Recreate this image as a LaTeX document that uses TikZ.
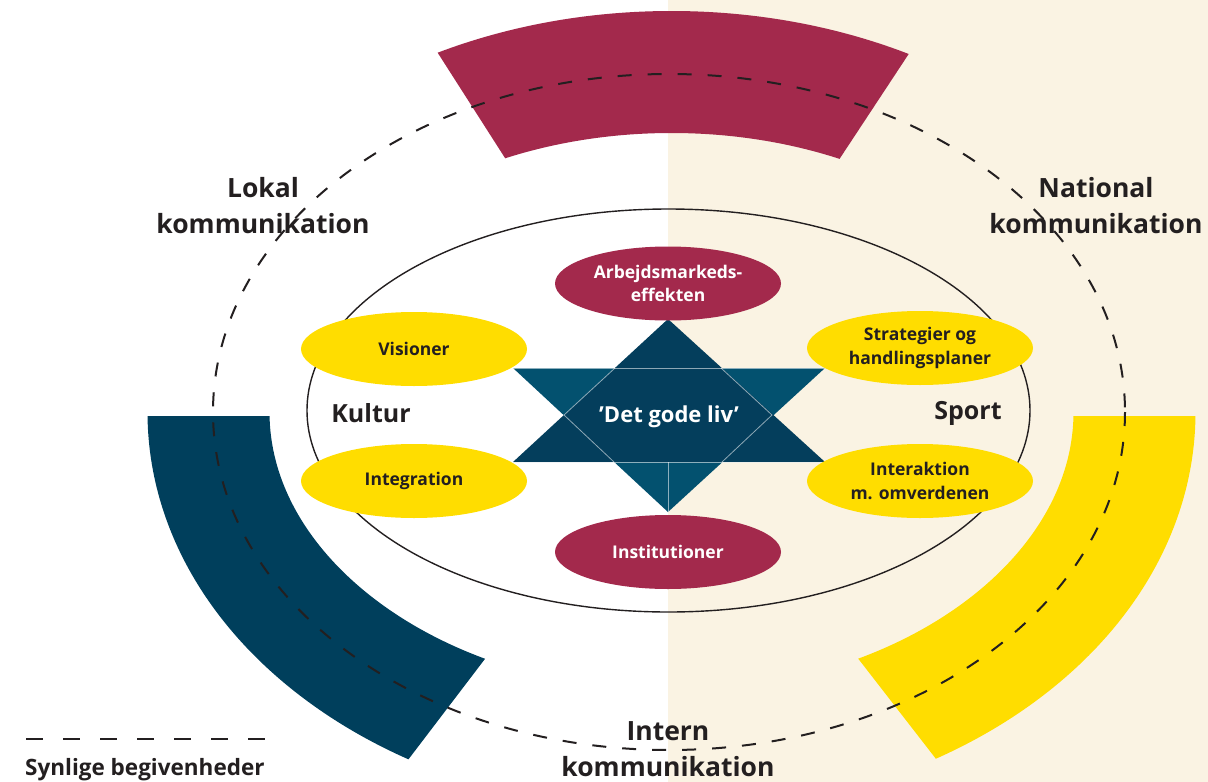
\documentclass[tikz,border=0pt]{standalone}
\usepackage{fontspec}
\setmainfont{Open Sans}
\usetikzlibrary{shapes.geometric}
\definecolor{cbeige}{RGB}{250,243,227}
\definecolor{cred}{RGB}{163,41,76}
\definecolor{cyel}{RGB}{255,221,0}
\definecolor{cnavy}{RGB}{0,63,92}
\definecolor{cstardark}{RGB}{4,62,92}
\definecolor{cstarlight}{RGB}{3,81,111}
\definecolor{cdark}{RGB}{35,31,32}
\newcommand\ellfont{\bfseries\fontsize{17.5}{23.5}\selectfont}
\newcommand\bigfont{\bfseries\fontsize{26.5}{36}\selectfont}
\tikzset{
  ell/.style={ellipse, minimum width=226pt, minimum height=74pt, inner sep=0pt, align=center, font=\ellfont},
  redell/.style={ell, fill=cred, text=white},
  yelell/.style={ell, fill=cyel, text=cdark},
  biglbl/.style={align=center, inner sep=0pt, text=cdark, font=\bigfont},
  band/.style={line width=122pt},
  eventline/.style={cdark, line width=2pt, dash pattern=on 14pt off 16pt},
  starline/.style={white, opacity=0.55, line width=0.8pt},
}
\begin{document}
\begin{tikzpicture}[x=1pt,y=-1pt]
\useasboundingbox (0,0) rectangle (1208,782);
\fill[cbeige] (668,0) rectangle (1208,782);
% bands
\begin{scope}
  \clip (670,416) -- +(-122.6:1000) -- +(-56.6:1000) -- cycle;
  \draw[band, cred] (671.5,412) ellipse [x radius=463, y radius=340];
\end{scope}
\begin{scope}
  \clip (670,416) -- +(127.3:1000) -- +(180:1000) -- cycle;
  \draw[band, cnavy] (671.5,412) ellipse [x radius=463, y radius=340];
\end{scope}
\begin{scope}
  \clip (670,416) -- +(0:1000) -- +(52.2:1000) -- cycle;
  \draw[band, cyel] (671.5,412) ellipse [x radius=463, y radius=340];
\end{scope}
% dashed ellipse
\draw[eventline] (669,412) ellipse [x radius=456, y radius=338];
% inner ellipse
\draw[cdark, line width=1.4pt] (668.5,410.5) ellipse [x radius=361.5, y radius=201.5];
% star
\fill[cstarlight] (513,368) -- (825,368) -- (668,512) -- cycle;
\fill[cstardark] (668,319) -- (513,462) -- (825,462) -- cycle;
\draw[starline] (513,368) -- (825,368);
\draw[starline] (513,462) -- (825,462);
\draw[starline] (615,368) -- (564,415) -- (614,462);
\draw[starline] (721,368) -- (772,415) -- (722,462);
\draw[starline] (668,462) -- (668,512);
\node[text=white, font=\bfseries\fontsize{22}{28}\selectfont, inner sep=0pt] (liv) at (669,417) {’Det gode liv’};
% ellipses
\node[redell] (arb) at (668,283.5) {Arbejdsmarkeds-\\effekten};
\node[redell] (inst) at (668,552) {Institutioner};
\node[yelell] (vis) at (414,349) {Visioner};
\node[yelell] (integ) at (414,481) {Integration};
\node[yelell] (strat) at (920,348) {Strategier og\\handlingsplaner};
\node[yelell] (inter) at (920,481) {Interaktion\\m. omverdenen};
% labels
\node[biglbl, font=\bfseries\fontsize{25}{30}\selectfont] (kultur) at (371,413) {Kultur};
\node[biglbl, font=\bfseries\fontsize{25}{30}\selectfont] (sport) at (968,413) {Sport};
\node[biglbl] (lokal) at (263,206) {Lokal\\kommunikation};
\node[biglbl] (national) at (1096,206) {National\\kommunikation};
\node[biglbl] (intern) at (668,749) {Intern\\kommunikation};
% legend
\coordinate (legA) at (26,739);
\coordinate (legB) at (268,739);
\draw[cdark, line width=2pt, dash pattern=on 17pt off 20pt] (legA) -- (legB);
\node[anchor=base west, inner sep=0pt, text=cdark, font=\bfseries\fontsize{22.5}{28}\selectfont] (synlige) at (25,775) {Synlige begivenheder};
\end{tikzpicture}
\end{document}
